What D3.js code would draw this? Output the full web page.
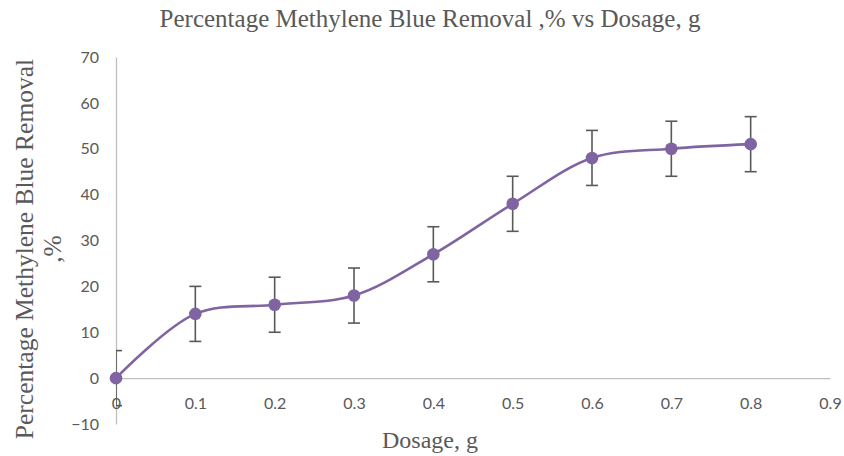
<!DOCTYPE html>
<html>
<head>
<meta charset="utf-8">
<script src="https://cdn.jsdelivr.net/npm/d3@7"></script>
<style>
  html, body { margin: 0; padding: 0; background: #fff; }
  svg { display: block; }
</style>
</head>
<body>
<svg id="chart" width="844" height="456"></svg>
<script>
// Dosage (g) against methylene blue removal (%), with ±6 error bars
const dosage = [0, 0.1, 0.2, 0.3, 0.4, 0.5, 0.6, 0.7, 0.8];
const removal = [0, 14, 16, 18, 27, 38, 48, 50, 51];
const errorAmount = [6, 6, 6, 6, 6, 6, 6, 6, 6];
const xTicks = [0, 0.1, 0.2, 0.3, 0.4, 0.5, 0.6, 0.7, 0.8, 0.9];
const yTicks = [-10, 0, 10, 20, 30, 40, 50, 60, 70];

const svg = d3.select("#chart");
const plotLeft = 116, plotRight = 830, plotTop = 57, plotBottom = 424;

const x = d3.scaleLinear().domain([0, 0.9]).range([plotLeft, plotRight]);
const y = d3.scaleLinear().domain([-10, 70]).range([plotBottom, plotTop]);

const axisColor = "#BFBFBF";
const textColor = "#595959";
const lineColor = "#8064A2";
const errColor = "#595959";
const serif = "'Liberation Serif', 'Times New Roman', serif";
const sans = "Lato, 'Open Sans', sans-serif";

// Title
svg.append("text")
  .attr("x", 430).attr("y", 27)
  .attr("text-anchor", "middle")
  .attr("font-family", serif)
  .attr("font-size", 25)
  .attr("fill", textColor)
  .text("Percentage Methylene Blue Removal ,% vs Dosage, g");

// Y axis line and labels
const yAxis = d3.axisLeft(y).tickValues(yTicks).tickSize(0).tickPadding(17).tickFormat(d3.format("d"));
const gy = svg.append("g").attr("transform", `translate(${plotLeft},0)`).call(yAxis);
gy.select(".domain").attr("stroke", axisColor).attr("stroke-width", 1.3);
gy.selectAll("text")
  .attr("font-family", sans)
  .attr("font-size", 16)
  .attr("fill", textColor);

// X axis along zero
const xAxis = d3.axisBottom(x).tickValues(xTicks).tickSize(0).tickPadding(20).tickFormat(d => d === 0 ? "0" : d3.format(".1f")(d));
const gx = svg.append("g").attr("transform", `translate(0,${y(0)})`).call(xAxis);
gx.select(".domain").attr("stroke", axisColor).attr("stroke-width", 1.3);
gx.selectAll("text")
  .attr("font-family", sans)
  .attr("font-size", 16)
  .attr("fill", textColor);

// Axis titles
svg.append("text")
  .attr("x", 430).attr("y", 448)
  .attr("text-anchor", "middle")
  .attr("font-family", serif)
  .attr("font-size", 24)
  .attr("fill", textColor)
  .text("Dosage, g");

const yTitle = svg.append("text")
  .attr("transform", "translate(33,249) rotate(-90)")
  .attr("text-anchor", "middle")
  .attr("font-family", serif)
  .attr("font-size", 25.5)
  .attr("fill", textColor);
yTitle.append("tspan").attr("x", 0).attr("dy", 0).text("Percentage Methylene Blue Removal");
yTitle.append("tspan").attr("x", 0).attr("dy", 28).text(",%");

// Error bars (clipped to the plot area on the left)
svg.append("clipPath").attr("id", "plotClip")
  .append("rect").attr("x", plotLeft).attr("y", 0).attr("width", 844 - plotLeft).attr("height", 456);

const pts = dosage.map((d, i) => ({ x: d, y: removal[i], e: errorAmount[i] }));
const eg = svg.append("g").attr("clip-path", "url(#plotClip)")
  .attr("stroke", errColor).attr("stroke-width", 1.6).attr("fill", "none");
const cap = 6;
pts.forEach(p => {
  const cx = x(p.x), y1 = y(p.y + p.e), y2 = y(p.y - p.e);
  eg.append("line").attr("x1", cx).attr("x2", cx).attr("y1", y1).attr("y2", y2);
  eg.append("line").attr("x1", cx - cap).attr("x2", cx + cap).attr("y1", y1).attr("y2", y1);
  eg.append("line").attr("x1", cx - cap).attr("x2", cx + cap).attr("y1", y2).attr("y2", y2);
});

// Smoothed line
const line = d3.line().x(d => x(d.x)).y(d => y(d.y)).curve(d3.curveCatmullRom.alpha(0.5));
svg.append("path").datum(pts)
  .attr("d", line)
  .attr("fill", "none")
  .attr("stroke", lineColor)
  .attr("stroke-width", 2.6)
  .attr("stroke-linecap", "round");

// Markers
svg.append("g").selectAll("circle").data(pts).join("circle")
  .attr("cx", d => x(d.x)).attr("cy", d => y(d.y))
  .attr("r", 6.3)
  .attr("fill", lineColor);
</script>
</body>
</html>
